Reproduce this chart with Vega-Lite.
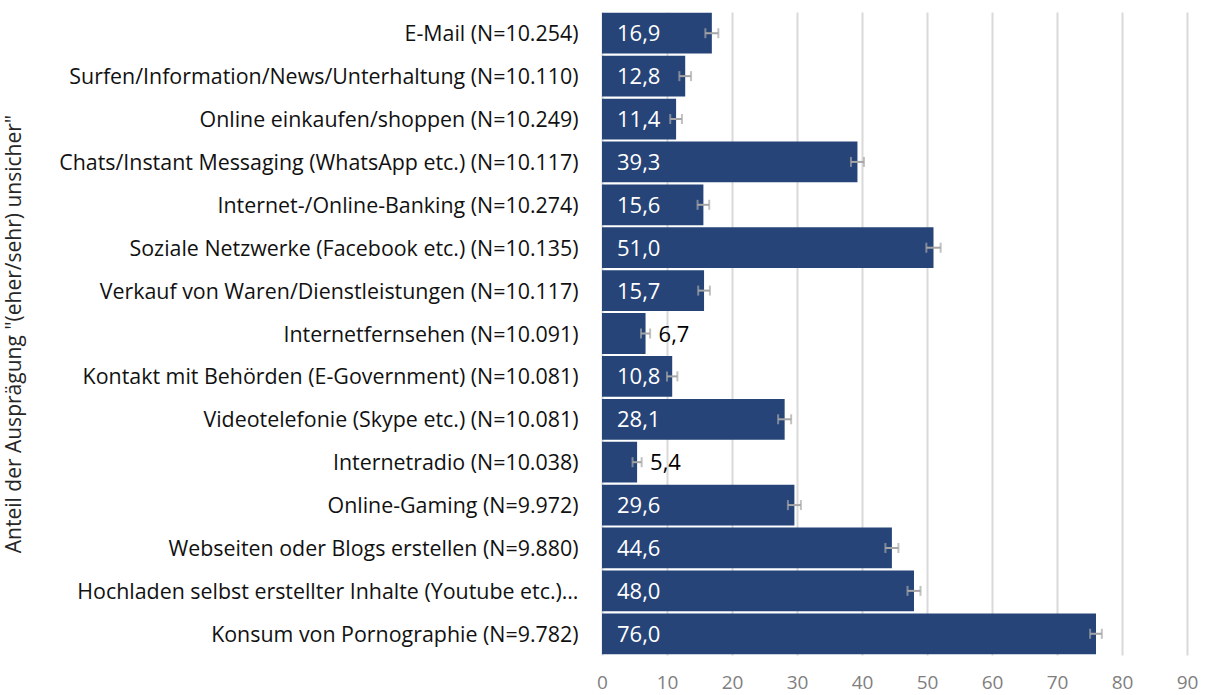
{
  "$schema": "https://vega.github.io/schema/vega-lite/v6.json",
  "autosize": {"type": "none"},
  "width": 585,
  "height": 643,
  "padding": {"left": 602, "top": 12, "right": 20, "bottom": 40},
  "background": "#ffffff",
  "config": {
    "view": {"stroke": null},
    "font": "Open Sans",
    "locale": {"number": {"decimal": ",", "thousands": ".", "grouping": [3], "currency": ["", " €"]}}
  },
  "data": {"values": [
    {"label": "E-Mail (N=10.254)", "value": 16.9, "lo": 15.9, "hi": 17.9},
    {"label": "Surfen/Information/News/Unterhaltung (N=10.110)", "value": 12.8, "lo": 11.9, "hi": 13.7},
    {"label": "Online einkaufen/shoppen (N=10.249)", "value": 11.4, "lo": 10.5, "hi": 12.3},
    {"label": "Chats/Instant Messaging (WhatsApp etc.) (N=10.117)", "value": 39.3, "lo": 38.3, "hi": 40.3},
    {"label": "Internet-/Online-Banking (N=10.274)", "value": 15.6, "lo": 14.7, "hi": 16.5},
    {"label": "Soziale Netzwerke (Facebook etc.) (N=10.135)", "value": 51.0, "lo": 49.9, "hi": 52.1},
    {"label": "Verkauf von Waren/Dienstleistungen (N=10.117)", "value": 15.7, "lo": 14.8, "hi": 16.6},
    {"label": "Internetfernsehen (N=10.091)", "value": 6.7, "lo": 6.0, "hi": 7.4},
    {"label": "Kontakt mit Behörden (E-Government) (N=10.081)", "value": 10.8, "lo": 10.0, "hi": 11.6},
    {"label": "Videotelefonie (Skype etc.) (N=10.081)", "value": 28.1, "lo": 27.1, "hi": 29.1},
    {"label": "Internetradio (N=10.038)", "value": 5.4, "lo": 4.7, "hi": 6.1},
    {"label": "Online-Gaming (N=9.972)", "value": 29.6, "lo": 28.6, "hi": 30.6},
    {"label": "Webseiten oder Blogs erstellen (N=9.880)", "value": 44.6, "lo": 43.6, "hi": 45.6},
    {"label": "Hochladen selbst erstellter Inhalte (Youtube etc.)…", "value": 48.0, "lo": 47.0, "hi": 49.0},
    {"label": "Konsum von Pornographie (N=9.782)", "value": 76.0, "lo": 75.1, "hi": 76.9}
  ]},
  "encoding": {
    "y": {
      "field": "label", "type": "nominal", "sort": null,
      "scale": {"paddingInner": 0.05, "paddingOuter": 0.02},
      "axis": {
        "title": "Anteil der Ausprägung \"(eher/sehr) unsicher\"",
        "titleFontSize": 21, "titleFontWeight": "normal", "titleColor": "#262626", "titleFont": "Open Sans",
        "titleX": -588, "titleY": 321.5, "titleAngle": -90, "titleAlign": "center", "titleBaseline": "middle",
        "labelFontSize": 21.4, "labelColor": "#111111", "labelPadding": 24, "labelLimit": 600, "labelFont": "Open Sans",
        "labelOffset": 2,
        "ticks": false, "domain": false
      }
    }
  },
  "layer": [
    {
      "mark": {"type": "bar", "color": "#264478"},
      "encoding": {
        "x": {
          "field": "value", "type": "quantitative",
          "scale": {"domain": [0, 90], "nice": false},
          "axis": {
            "title": null, "values": [0, 10, 20, 30, 40, 50, 60, 70, 80, 90],
            "grid": true, "gridColor": "#D9D9D9", "gridWidth": 2,
            "ticks": false, "domain": false,
            "labelFontSize": 19, "labelColor": "#7F7F7F", "labelPadding": 18, "labelFont": "Open Sans",
            "labelFlush": false
          }
        }
      }
    },
    {
      "mark": {"type": "rule", "color": "#A6A6A6", "strokeWidth": 2},
      "encoding": {
        "x": {"field": "lo", "type": "quantitative"},
        "x2": {"field": "hi"}
      }
    },
    {
      "mark": {"type": "tick", "orient": "vertical", "color": "#A6A6A6", "size": 10, "thickness": 2},
      "encoding": {"x": {"field": "lo", "type": "quantitative"}}
    },
    {
      "mark": {"type": "tick", "orient": "vertical", "color": "#A6A6A6", "size": 10, "thickness": 2},
      "encoding": {"x": {"field": "hi", "type": "quantitative"}}
    },
    {
      "transform": [{"filter": "datum.value >= 10"}],
      "mark": {"type": "text", "align": "left", "baseline": "middle", "dx": 15, "dy": 1, "fontSize": 22, "color": "#ffffff", "font": "Open Sans"},
      "encoding": {
        "x": {"datum": 0, "type": "quantitative"},
        "text": {"field": "value", "type": "quantitative", "format": ".1f"}
      }
    },
    {
      "transform": [{"filter": "datum.value < 10"}],
      "mark": {"type": "text", "align": "left", "baseline": "middle", "dx": 13, "dy": 1, "fontSize": 22, "color": "#000000", "font": "Open Sans"},
      "encoding": {
        "x": {"field": "value", "type": "quantitative"},
        "text": {"field": "value", "type": "quantitative", "format": ".1f"}
      }
    }
  ]
}
